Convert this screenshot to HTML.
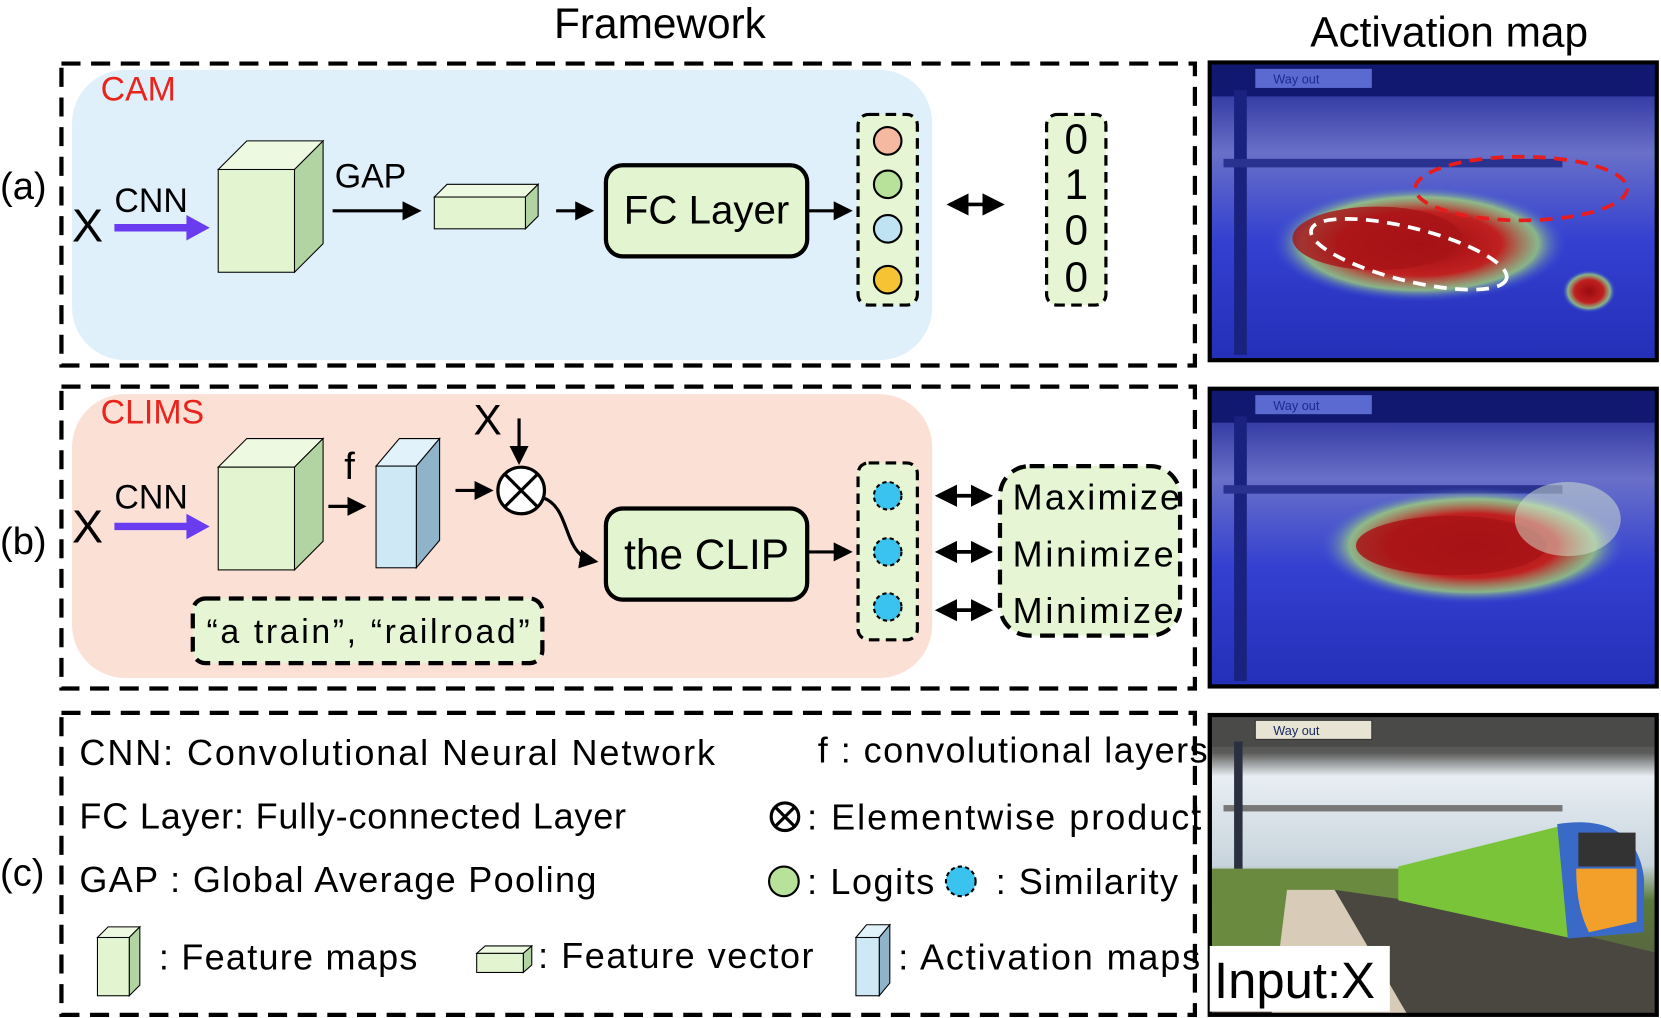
<!DOCTYPE html>
<html><head><meta charset="utf-8"><style>html,body{margin:0;padding:0;background:#fff}svg{display:block}text{font-family:"Liberation Sans",sans-serif}</style></head>
<body>
<svg width="1661" height="1018" viewBox="0 0 1568 961" preserveAspectRatio="none" xmlns="http://www.w3.org/2000/svg">
<defs>
<marker id="ah" markerWidth="6" markerHeight="6" refX="5" refY="3" orient="auto" markerUnits="strokeWidth"><path d="M0,0 L6,3 L0,6 z" fill="#000"/></marker>
<marker id="as" markerWidth="6" markerHeight="6" refX="1" refY="3" orient="auto" markerUnits="strokeWidth"><path d="M6,0 L0,3 L6,6 z" fill="#000"/></marker>
<radialGradient id="red1" cx="0.5" cy="0.5" r="0.5"><stop offset="0" stop-color="#9a0a10"/><stop offset="0.55" stop-color="#c02020"/><stop offset="0.8" stop-color="#9fd27a" stop-opacity="0.8"/><stop offset="1" stop-color="#3a4ee0" stop-opacity="0"/></radialGradient>
<linearGradient id="bg1" x1="0" y1="0" x2="0" y2="1"><stop offset="0" stop-color="#1a2090"/><stop offset="0.3" stop-color="#6870c8"/><stop offset="0.6" stop-color="#3440d0"/><stop offset="1" stop-color="#2430b8"/></linearGradient>
<linearGradient id="sky" x1="0" y1="0" x2="0" y2="1"><stop offset="0" stop-color="#4a4a48"/><stop offset="0.12" stop-color="#5a5a58"/><stop offset="0.2" stop-color="#e8eef4"/><stop offset="0.5" stop-color="#c8d4dc"/><stop offset="0.62" stop-color="#5a7a3a"/><stop offset="1" stop-color="#5a5048"/></linearGradient>
<clipPath id="c3"><rect x="1144" y="677" width="418" height="279"/></clipPath>
</defs>

<text x="623" y="36" font-size="40" text-anchor="middle">Framework</text>
<text x="1368" y="44" font-size="40" text-anchor="middle">Activation map</text>

<!-- (a) -->
<rect x="68" y="66" width="812" height="274" rx="50" fill="#dff0fb"/>
<rect x="58" y="60" width="1070" height="285" fill="none" stroke="#000" stroke-width="4" stroke-dasharray="18 10"/>
<text x="95" y="95" font-size="32" fill="#e8241c">CAM</text>
<text x="0" y="188" font-size="36">(a)</text>
<text x="68" y="228" font-size="44">X</text>
<text x="108" y="200" font-size="32">CNN</text>
<line x1="108" y1="215" x2="180" y2="215" stroke="#6a3cf0" stroke-width="7"/>
<path d="M176,203 L198,215 L176,227 z" fill="#6a3cf0"/>
<g stroke="#000" stroke-width="1">
<path d="M206,160 L233,133 L305,133 L278,160 z" fill="#eef9e2"/>
<path d="M278,160 L305,133 L305,230 L278,257 z" fill="#b2d4a2"/>
<rect x="206" y="160" width="72" height="97" fill="#e2f5d0"/>
</g>
<text x="316" y="177" font-size="32">GAP</text>
<line x1="314" y1="199" x2="395" y2="199" stroke="#000" stroke-width="3" marker-end="url(#ah)"/>
<g stroke="#000" stroke-width="1">
<path d="M410,186 L422,174 L508,174 L496,186 z" fill="#eef9e2"/>
<path d="M496,186 L508,174 L508,204 L496,216 z" fill="#b2d4a2"/>
<rect x="410" y="186" width="86" height="30" fill="#e2f5d0"/>
</g>
<line x1="525" y1="199" x2="558" y2="199" stroke="#000" stroke-width="3" marker-end="url(#ah)"/>
<rect x="572" y="156" width="190" height="86" rx="16" fill="#e2f5d0" stroke="#000" stroke-width="4"/>
<text x="667" y="211" font-size="38" text-anchor="middle">FC Layer</text>
<line x1="762" y1="199" x2="802" y2="199" stroke="#000" stroke-width="3" marker-end="url(#ah)"/>
<rect x="810" y="108" width="56" height="180" rx="10" fill="#e6f6d4" stroke="#000" stroke-width="3" stroke-dasharray="10 6"/>
<g stroke="#000" stroke-width="2">
<circle cx="838" cy="133" r="13" fill="#f5b8a0"/><circle cx="838" cy="174" r="13" fill="#b8e29a"/>
<circle cx="838" cy="216" r="13" fill="#bfe3f3"/><circle cx="838" cy="264" r="13" fill="#f6c334"/>
</g>
<line x1="897" y1="193" x2="945" y2="193" stroke="#000" stroke-width="3.5" marker-start="url(#as)" marker-end="url(#ah)"/>
<rect x="988" y="108" width="56" height="180" rx="10" fill="#e6f6d4" stroke="#000" stroke-width="3" stroke-dasharray="10 6"/>
<g font-size="40" text-anchor="middle"><text x="1016" y="145">0</text><text x="1016" y="188">1</text><text x="1016" y="231">0</text><text x="1016" y="275">0</text></g>

<!-- activation image a -->
<rect x="1140" y="57" width="426" height="285" fill="#000"/>
<rect x="1144" y="61" width="418" height="277" fill="url(#bg1)"/>
<rect x="1144" y="61" width="418" height="30" fill="#101870"/>
<rect x="1185" y="65" width="110" height="18" fill="#5a6ad0"/>
<text x="1202" y="79" font-size="12" fill="#1a2a90">Way out</text>
<rect x="1165" y="85" width="12" height="250" fill="#1a2280"/>
<rect x="1155" y="150" width="320" height="8" fill="#2a3290"/>
<ellipse cx="1340" cy="230" rx="140" ry="55" fill="url(#red1)"/>
<ellipse cx="1300" cy="225" rx="80" ry="30" fill="#a81418" opacity="0.8"/>
<ellipse cx="1500" cy="275" rx="25" ry="20" fill="url(#red1)"/>
<ellipse cx="1436" cy="178" rx="100" ry="30" fill="none" stroke="#e81c1c" stroke-width="3.5" stroke-dasharray="12 8"/>
<ellipse cx="1330" cy="240" rx="95" ry="25" transform="rotate(14 1330 240)" fill="none" stroke="#fff" stroke-width="3.5" stroke-dasharray="12 8"/>

<!-- (b) -->
<rect x="68" y="372" width="812" height="268" rx="50" fill="#fbe0d6"/>
<rect x="58" y="365" width="1070" height="285" fill="none" stroke="#000" stroke-width="4" stroke-dasharray="18 10"/>
<text x="95" y="400" font-size="32" fill="#e8241c">CLIMS</text>
<text x="0" y="523" font-size="36">(b)</text>
<text x="68" y="512" font-size="44">X</text>
<text x="108" y="480" font-size="32">CNN</text>
<line x1="108" y1="497" x2="180" y2="497" stroke="#6a3cf0" stroke-width="7"/>
<path d="M176,485 L198,497 L176,509 z" fill="#6a3cf0"/>
<g stroke="#000" stroke-width="1">
<path d="M206,441 L233,414 L305,414 L278,441 z" fill="#eef9e2"/>
<path d="M278,441 L305,414 L305,511 L278,538 z" fill="#b2d4a2"/>
<rect x="206" y="441" width="72" height="97" fill="#e2f5d0"/>
</g>
<text x="325" y="452" font-size="36">f</text>
<line x1="310" y1="478" x2="343" y2="478" stroke="#000" stroke-width="3" marker-end="url(#ah)"/>
<g stroke="#000" stroke-width="1">
<path d="M355,440 L377,414 L415,414 L393,440 z" fill="#e2f2fa"/>
<path d="M393,440 L415,414 L415,510 L393,536 z" fill="#8fb3c9"/>
<rect x="355" y="440" width="38" height="96" fill="#cfe8f5"/>
</g>
<line x1="430" y1="463" x2="463" y2="463" stroke="#000" stroke-width="3" marker-end="url(#ah)"/>
<text x="447" y="410" font-size="40">X</text>
<line x1="490" y1="395" x2="490" y2="436" stroke="#000" stroke-width="3" marker-end="url(#ah)"/>
<circle cx="492" cy="463" r="22" fill="#fff" stroke="#000" stroke-width="3"/>
<path d="M477,448 L507,478 M507,448 L477,478" stroke="#000" stroke-width="3"/>
<path d="M513,470 C540,480 530,525 562,530" fill="none" stroke="#000" stroke-width="3" marker-end="url(#ah)"/>
<rect x="572" y="480" width="190" height="86" rx="16" fill="#e2f5d0" stroke="#000" stroke-width="4"/>
<text x="667" y="537" font-size="40" text-anchor="middle">the CLIP</text>
<line x1="762" y1="521" x2="802" y2="521" stroke="#000" stroke-width="3" marker-end="url(#ah)"/>
<rect x="810" y="437" width="56" height="167" rx="10" fill="#e6f6d4" stroke="#000" stroke-width="3" stroke-dasharray="10 6"/>
<g fill="#39c3ee" stroke="#000" stroke-width="2" stroke-dasharray="4 3">
<circle cx="838" cy="468" r="13"/><circle cx="838" cy="521" r="13"/><circle cx="838" cy="573" r="13"/>
</g>
<g stroke="#000" stroke-width="3.5">
<line x1="886" y1="468" x2="934" y2="468" marker-start="url(#as)" marker-end="url(#ah)"/>
<line x1="886" y1="521" x2="934" y2="521" marker-start="url(#as)" marker-end="url(#ah)"/>
<line x1="886" y1="576" x2="934" y2="576" marker-start="url(#as)" marker-end="url(#ah)"/>
</g>
<rect x="944" y="440" width="170" height="160" rx="28" fill="#e6f6d4" stroke="#000" stroke-width="4" stroke-dasharray="14 8"/>
<g font-size="34"><text x="956" y="481" textLength="158">Maximize</text><text x="956" y="535" textLength="152">Minimize</text><text x="956" y="588" textLength="152">Minimize</text></g>
<rect x="182" y="565" width="330" height="61" rx="12" fill="#e6f6d4" stroke="#000" stroke-width="4" stroke-dasharray="14 8"/>
<text x="195" y="607" font-size="32" textLength="305">“a train”, “railroad”</text>

<!-- activation image b -->
<rect x="1140" y="365" width="426" height="285" fill="#000"/>
<rect x="1144" y="369" width="418" height="277" fill="url(#bg1)"/>
<rect x="1144" y="369" width="418" height="30" fill="#101870"/>
<rect x="1185" y="373" width="110" height="18" fill="#5a6ad0"/>
<text x="1202" y="387" font-size="12" fill="#1a2a90">Way out</text>
<rect x="1165" y="393" width="12" height="250" fill="#1a2280"/>
<rect x="1155" y="458" width="320" height="8" fill="#2a3290"/>
<ellipse cx="1390" cy="515" rx="145" ry="55" fill="url(#red1)"/>
<ellipse cx="1370" cy="515" rx="90" ry="28" fill="#a81418" opacity="0.85"/>
<ellipse cx="1480" cy="490" rx="50" ry="35" fill="#d8e8d0" opacity="0.5"/>

<!-- (c) -->
<rect x="58" y="673" width="1070" height="285" fill="none" stroke="#000" stroke-width="4" stroke-dasharray="18 10"/>
<g font-size="34">
<text x="75" y="722" textLength="600">CNN: Convolutional Neural Network</text>
<text x="772" y="720" textLength="368">f : convolutional layers</text>
<text x="75" y="782" textLength="516">FC Layer: Fully-connected Layer</text>
<text x="762" y="783" textLength="372">: Elementwise product</text>
<text x="0" y="836" font-size="36">(c)</text>
<text x="75" y="842" textLength="488">GAP : Global Average Pooling</text>
<text x="762" y="844" textLength="120">: Logits</text>
<text x="940" y="844" textLength="172">: Similarity</text>
<text x="150" y="915" textLength="244">: Feature maps</text>
<text x="508" y="914" textLength="260">: Feature vector</text>
<text x="848" y="915" textLength="285">: Activation maps</text>
</g>
<circle cx="741" cy="771" r="13" fill="#fff" stroke="#000" stroke-width="3"/>
<path d="M732,762 L750,780 M750,762 L732,780" stroke="#000" stroke-width="3"/>
<circle cx="740" cy="832" r="14" fill="#b8e29a" stroke="#000" stroke-width="2"/>
<circle cx="907" cy="832" r="14" fill="#39c3ee" stroke="#000" stroke-width="2" stroke-dasharray="4 3"/>
<g stroke="#000" stroke-width="1">
<path d="M92,885 L102,875 L132,875 L122,885 z" fill="#eef9e2"/>
<path d="M122,885 L132,875 L132,930 L122,940 z" fill="#b2d4a2"/>
<rect x="92" y="885" width="30" height="55" fill="#e2f5d0"/>
<path d="M450,900 L458,893 L502,893 L494,900 z" fill="#eef9e2"/>
<path d="M494,900 L502,893 L502,911 L494,918 z" fill="#b2d4a2"/>
<rect x="450" y="900" width="44" height="18" fill="#e2f5d0"/>
<path d="M808,885 L818,873 L840,873 L830,885 z" fill="#e2f2fa"/>
<path d="M830,885 L840,873 L840,928 L830,940 z" fill="#8fb3c9"/>
<rect x="808" y="885" width="22" height="55" fill="#cfe8f5"/>
</g>

<!-- input image -->
<rect x="1140" y="673" width="426" height="287" fill="#000"/>
<g clip-path="url(#c3)">
<rect x="1144" y="677" width="418" height="279" fill="url(#sky)"/>
<rect x="1144" y="677" width="418" height="28" fill="#4a4a48"/>
<rect x="1185" y="680" width="110" height="18" fill="#e8e4d4" stroke="#333"/>
<text x="1202" y="694" font-size="12" fill="#1a2a60">Way out</text>
<rect x="1155" y="760" width="320" height="6" fill="#777"/>
<rect x="1165" y="700" width="8" height="250" fill="#2a3040"/>
<rect x="1144" y="820" width="200" height="80" fill="#6a8a40"/>
<path d="M1200,960 L1215,840 L1260,840 L1330,960 z" fill="#d8ccb8"/>
<path d="M1330,960 L1260,840 L1400,860 L1566,900 L1566,960 z" fill="#4a4640"/>
<path d="M1320,818 L1480,778 L1520,790 L1522,880 L1480,885 L1320,850 z" fill="#7ac43a"/>
<path d="M1470,778 C1520,770 1548,790 1552,830 L1552,880 L1480,886 z" fill="#3a6ac8"/>
<path d="M1488,820 L1545,820 L1545,870 L1500,880 C1490,860 1488,840 1488,820 z" fill="#f2a02a"/>
<rect x="1490" y="786" width="54" height="32" fill="#333"/>
</g>
<rect x="1142" y="893" width="170" height="62" fill="#fff"/>
<text x="1146" y="942" font-size="48">Input:X</text>
</svg>
</body></html>
